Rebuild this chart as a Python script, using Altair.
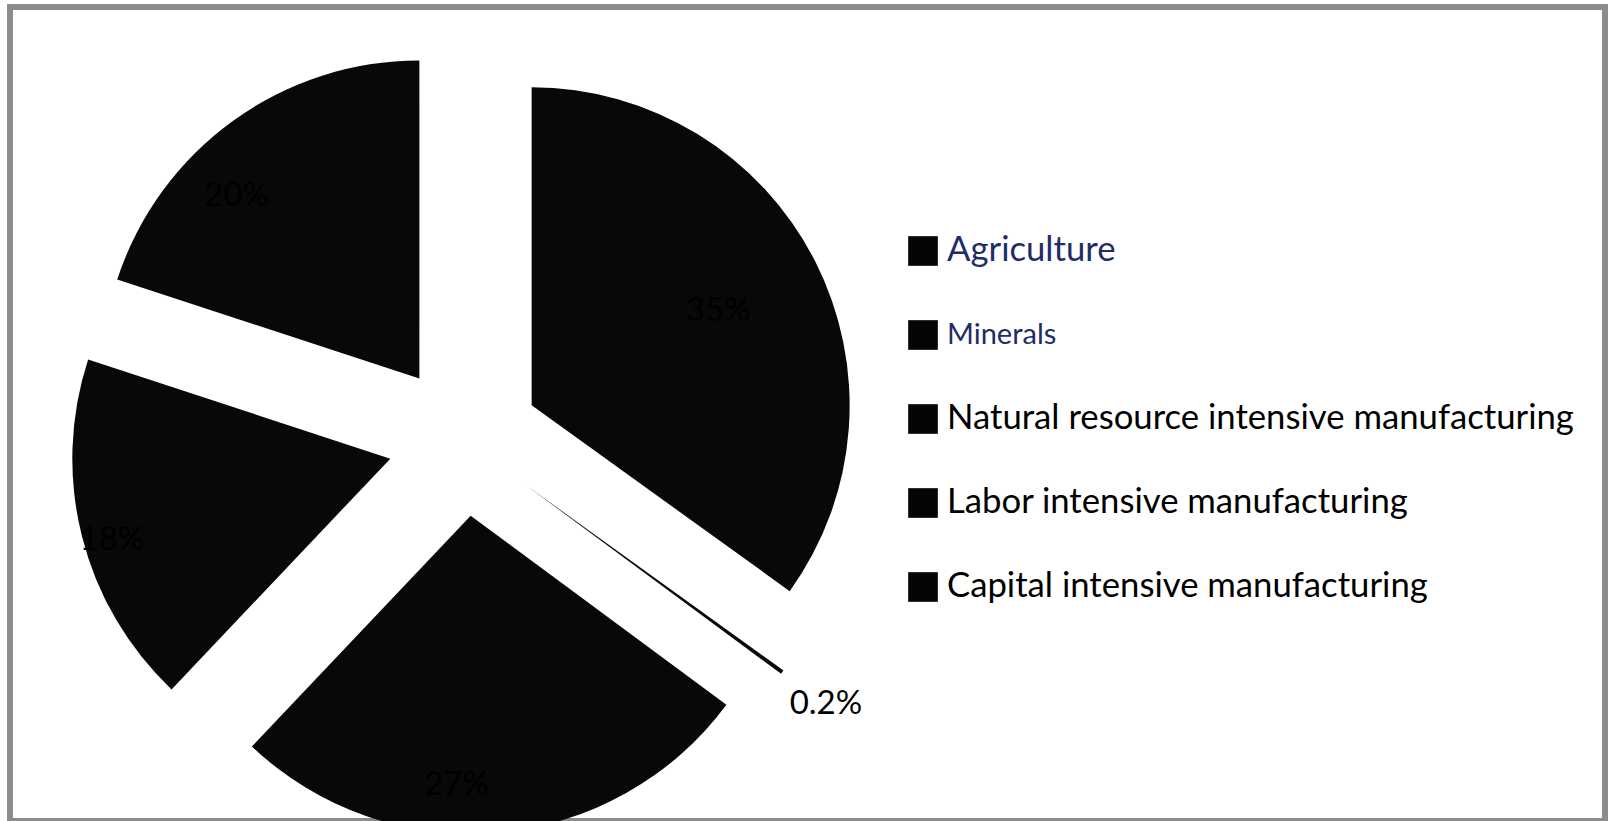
import math
import altair as alt
import pandas as pd

# ---- data ----
categories = [
    "Agriculture",
    "Minerals",
    "Natural resource intensive manufacturing",
    "Labor intensive manufacturing",
    "Capital intensive manufacturing",
]
shares = [35, 0.2, 27, 18, 20]  # percent, clockwise from 12 o'clock

# ---- layout / style constants ----
CX, CY = 454, 433        # pie centre inside the plot area (px)
EXPLODE = 76             # slice explosion distance (px)
R = 318                  # slice radius (px)
LABEL_R_IN = 250
LABEL_R_OUT = 372
SLICE = "#0a0709"
NAVY = "#1f2d67"
FONT = "Lato"

df = pd.DataFrame({"name": categories, "value": shares})
leg = pd.DataFrame({"name": categories})

theta_scale = alt.Scale(domain=[0, 1], range=[0, 2 * math.pi])
xs = alt.Scale(domain=[-1, 1], range=[CX - EXPLODE, CX + EXPLODE], nice=False, zero=False)
ys = alt.Scale(domain=[-1, 1], range=[CY - EXPLODE, CY + EXPLODE], nice=False, zero=False)

base = (
    alt.Chart(df)
    .transform_window(idx="row_number()")
    .transform_window(cum="sum(value)", sort=[alt.SortField("idx")], frame=[None, 0])
    .transform_joinaggregate(total="sum(value)")
    .transform_calculate(
        t0="(datum.cum - datum.value) / datum.total",
        t1="datum.cum / datum.total",
        tm="(datum.cum - datum.value / 2) / datum.total",
    )
    .transform_calculate(
        ex="sin(2 * PI * datum.tm)",
        ey="-cos(2 * PI * datum.tm)",
        label="datum.value + '%'",
    )
)

pos = dict(
    x=alt.X("ex:Q", scale=xs, axis=None),
    y=alt.Y("ey:Q", scale=ys, axis=None),
)

arcs = base.mark_arc(outerRadius=R, fill=SLICE, strokeWidth=0).encode(
    theta=alt.Theta("t0:Q", scale=theta_scale),
    theta2="t1:Q",
    **pos,
)

labels_in = (
    base.transform_filter("datum.value >= 1")
    .mark_text(radius=LABEL_R_IN, font=FONT, fontSize=33, color="#000000",
               align="center", baseline="middle", dx=-36, dy=20)
    .encode(theta=alt.Theta("tm:Q", scale=theta_scale), text="label:N", **pos)
)

labels_out = (
    base.transform_filter("datum.value < 1")
    .mark_text(radius=LABEL_R_OUT, font=FONT, fontSize=33, color="#000000",
               align="center", baseline="middle")
    .encode(theta=alt.Theta("tm:Q", scale=theta_scale), text="label:N", **pos)
)

leg_y = alt.Y("name:N", scale=alt.Scale(type="point", domain=categories,
                                         range=[244, 580], padding=0), axis=None)

leg_sq = alt.Chart(leg).mark_square(size=880, color="#050505", opacity=1).encode(
    x=alt.value(913), y=leg_y
)

leg_txt = alt.Chart(leg).mark_text(align="left", baseline="middle", font=FONT).encode(
    x=alt.value(937),
    y=leg_y,
    text="name:N",
    size=alt.condition(alt.datum.name == "Minerals", alt.value(29), alt.value(34.7)),
    color=alt.condition(
        (alt.datum.name == "Agriculture") | (alt.datum.name == "Minerals"),
        alt.value(NAVY), alt.value("#000000"),
    ),
)

chart = (
    alt.layer(arcs, labels_in, labels_out, leg_sq, leg_txt)
    .resolve_scale(x="independent", y="independent")
    .properties(
        width=1595, height=814, autosize="none",
        padding={"left": 10, "top": 7, "right": 7, "bottom": 0},
        background="white",
    )
    .configure_view(stroke="#8c8c8c", strokeWidth=6)
)

chart.save("out.html", embed_options={"renderer": "svg", "actions": False})
